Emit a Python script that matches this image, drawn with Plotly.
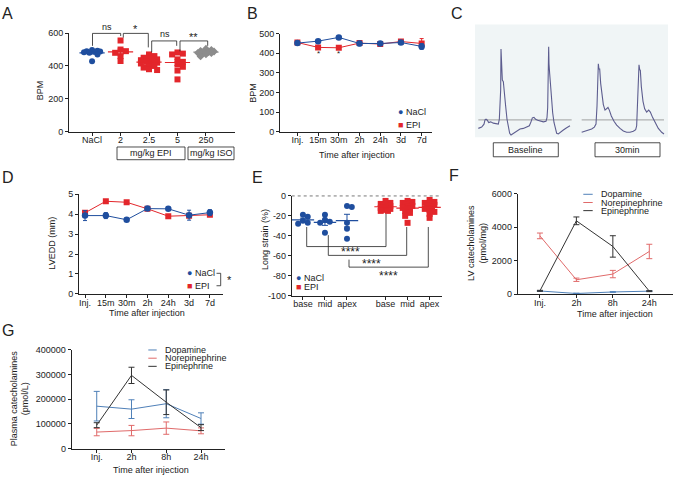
import plotly.graph_objects as go
import numpy as np

W, H = 673, 481
FONT = "Liberation Sans, Arial, sans-serif"
INK = "#222222"
BLUE = "#1f4e9e"
RED = "#e3262b"
GRAY = "#8c8c8c"
DOPA = "#4f80b8"
NOREPI = "#e06a6a"
EPIC = "#333333"
TRACE = "#5d5d8f"

# ---------------- data ----------------
# A: heart rate by dose
a_labels = ["NaCl", "2", "2.5", "5", "250"]
a_nacl = [497, 493, 490, 488, 486, 484, 480, 470, 428]
a_epi2 = [555, 500, 490, 480, 460, 430]
a_epi25 = [470, 460, 450, 445, 440, 435, 430, 425, 420, 415, 410, 400, 390, 380, 375]
a_epi5 = [482, 475, 470, 440, 425, 410, 395, 372, 318]
a_iso = [505, 498, 492, 488, 485, 482, 480, 478, 470, 458]

# B: BPM over time
b_times = ["Inj.", "15m", "30m", "2h", "24h", "3d", "7d"]
b_nacl = [452, 462, 481, 450, 450, 455, 435]
b_nacl_sem = [8, 5, 5, 12, 8, 8, 15]
b_epi = [455, 430, 428, 452, 447, 460, 450]
b_epi_sem = [6, 10, 8, 10, 8, 8, 25]

# C: representative traces (time, amplitude)
c_base_t = [25, 35, 42, 45, 48, 52, 56, 62, 70, 78, 85, 88, 90, 92, 93, 94, 96, 97, 100, 103, 107, 111, 115, 119, 123,
            130, 140, 150, 160, 170, 178, 183, 187, 192, 197, 203, 210, 220, 228, 231, 233, 234, 236, 237, 239, 241,
            244, 248, 252, 256, 260, 265, 272, 280, 290, 300]
c_base_v = [-0.26, -0.22, -0.13, 0.0, 0.02, -0.01, -0.08, -0.06, -0.10, -0.11, -0.13, 0.02, 0.34, 0.92, 2.17, 1.74,
            1.77, 1.22, 1.17, 0.77, 0.42, 0.02, -0.23, -0.41, -0.46, -0.42, -0.34, -0.28, -0.26, -0.22, -0.18, -0.06,
            0.06, 0.08, 0.02, -0.01, -0.04, -0.06, -0.04, 0.07, 0.37, 0.92, 2.24, 1.72, 1.42, 1.07, 0.62, 0.22,
            -0.08, -0.30, -0.41, -0.43, -0.36, -0.31, -0.24, -0.18]
c_30_t = [335, 345, 355, 365, 373, 378, 381, 383, 385, 387, 389, 392, 396, 400, 405, 410, 414, 418, 424, 432, 440,
          450, 460, 470, 480, 490, 497, 500, 502, 504, 507, 509, 511, 514, 519, 524, 530, 536, 541, 548, 556, 565,
          575, 582]
c_30_v = [-0.38, -0.34, -0.32, -0.28, -0.22, -0.13, 0.42, 1.12, 1.72, 1.55, 1.57, 1.12, 0.72, 0.47, 0.30, 0.34,
          0.38, 0.30, 0.12, -0.04, -0.16, -0.26, -0.34, -0.38, -0.38, -0.35, -0.30, -0.18, 0.32, 1.02, 1.69, 1.54,
          1.52, 1.02, 0.57, 0.34, 0.24, 0.30, 0.24, 0.07, -0.11, -0.26, -0.38, -0.43]

# D: LVEDD
d_nacl = [3.93, 3.93, 3.72, 4.28, 4.27, 3.95, 4.08]
d_nacl_sem = [0.25, 0.15, 0.07, 0.07, 0.07, 0.25, 0.15]
d_epi = [4.07, 4.65, 4.60, 4.27, 3.90, 3.92, 3.97]
d_epi_sem = [0.10, 0.05, 0.05, 0.05, 0.05, 0.08, 0.05]

# E: longitudinal strain
e_labels = ["base", "mid", "apex", "base", "mid", "apex"]
e_nacl_base = [-19, -21, -25, -27, -28]
e_nacl_mid = [-19, -24, -26, -27, -37]
e_nacl_apex = [-10, -11, -27, -33, -43]
e_epi_base = [-5, -7, -8, -9, -10, -10, -11, -12, -12, -13, -14, -15, -15]
e_epi_mid = [-5, -6, -7, -8, -9, -10, -11, -12, -13, -15, -17, -20, -27]
e_epi_apex = [-4, -6, -7, -8, -9, -10, -11, -13, -14, -16, -18, -22]

# F: LV catecholamines
f_times = ["Inj.", "2h", "8h", "24h"]
f_dopa = [190, 40, 130, 180]
f_dopa_sem = [20, 20, 20, 20]
f_norepi = [3480, 860, 1200, 2550]
f_norepi_sem = [170, 100, 220, 430]
f_epi = [200, 4380, 2850, 180]
f_epi_sem = [30, 230, 640, 30]

# G: plasma catecholamines
g_times = ["Inj.", "2h", "8h", "24h"]
g_dopa = [172000, 160000, 182000, 122000]
g_dopa_sem = [60000, 38000, 57000, 23000]
g_norepi = [67000, 73000, 83000, 72000]
g_norepi_sem = [15000, 21000, 25000, 12000]
g_epi = [95000, 297000, 188000, 85000]
g_epi_sem = [10000, 33000, 50000, 12000]


# ---------------- helpers ----------------
def X(p):
    return p / W


def Y(p):
    return 1 - p / H


def xd(a, b):
    return [a / W, b / W]


def yd(top, bottom):
    return [1 - bottom / H, 1 - top / H]


def swarm(vals, xs, ys, r=4.5, kmax=3):
    """Deterministic beeswarm offsets (in x data units)."""
    placed = []
    order = sorted(range(len(vals)), key=lambda i: -vals[i])
    res = [0.0] * len(vals)
    cands = [0]
    for k in range(1, kmax + 1):
        cands += [k, -k]
    for i in order:
        ypx = vals[i] * ys
        best, bestd = 0.0, -1
        for k in cands:
            xpx = k * r * 0.6
            dmin = min([((xpx - a) ** 2 + (ypx - b) ** 2) ** 0.5 for a, b in placed] or [99])
            if dmin >= r:
                best = xpx
                break
            if dmin > bestd:
                best, bestd = xpx, dmin
        placed.append((best, ypx))
        res[i] = best / xs
    return res


fig = go.Figure()
shapes, annos = [], []


def txt(x, y, s, size=9, xanchor="center", yanchor="middle", angle=0, color=INK):
    annos.append(dict(x=X(x), y=Y(y), xref="paper", yref="paper", text=s, showarrow=False,
                      font=dict(family=FONT, size=size, color=color), xanchor=xanchor, yanchor=yanchor,
                      textangle=angle))


def pline(x0, y0, x1, y1, color=INK, w=1, dash=None):
    d = dict(type="line", xref="paper", yref="paper", x0=X(x0), y0=Y(y0), x1=X(x1), y1=Y(y1),
             line=dict(color=color, width=w))
    if dash:
        d["line"]["dash"] = dash
    shapes.append(d)


def prect(x0, y0, x1, y1, fill=None, line=INK, w=1, layer="above"):
    shapes.append(dict(type="rect", xref="paper", yref="paper", x0=X(x0), y0=Y(y0), x1=X(x1), y1=Y(y1),
                       line=dict(color=line, width=w), fillcolor=fill or "rgba(0,0,0,0)", layer=layer))


axstyle = dict(showline=True, linecolor=INK, linewidth=1, ticks="outside", ticklen=3, tickwidth=1,
               tickcolor=INK, showgrid=False, zeroline=False, tickfont=dict(family=FONT, size=9, color=INK),
               fixedrange=True)
xstyle = dict(axstyle, ticklabelstandoff=-3)


def mean_sem(v):
    v = np.asarray(v, float)
    return float(v.mean()), float(v.std(ddof=1) / np.sqrt(len(v)))


# ---------------- Panel A ----------------
a_sets = [a_nacl, a_epi2, a_epi25, a_epi5, a_iso]
a_cols = [BLUE, RED, RED, RED, GRAY]
a_syms = ["circle", "square", "square", "square", "diamond"]
for i, vals in enumerate(a_sets):
    offs = swarm(vals, 28.5, 0.168, 4.5, 3)
    fig.add_trace(go.Scatter(x=[i + o for o in offs], y=vals, mode="markers", xaxis="x", yaxis="y",
                             marker=dict(symbol=a_syms[i], size=6, color=a_cols[i], line=dict(width=0)),
                             showlegend=False, cliponaxis=False))
    m, s = mean_sem(vals)
    fig.add_trace(go.Scatter(x=[i], y=[m], mode="markers", xaxis="x", yaxis="y", showlegend=False,
                             marker=dict(symbol="line-ew", size=18, line=dict(width=1.2, color=a_cols[i])),
                             error_y=dict(type="data", array=[s], color=a_cols[i], thickness=1, width=3)))

# brackets
for seg in [(92.5, 41.7, 92.5, 29), (92.5, 29, 120.7, 29), (120.7, 29, 120.7, 31.7),
            (123.3, 33.3, 123.3, 29), (123.3, 29, 148.3, 29), (148.3, 29, 148.3, 43.3),
            (151.7, 48.3, 151.7, 36.7), (151.7, 36.7, 176.7, 36.7), (176.7, 36.7, 176.7, 41.7),
            (180, 47.3, 180, 36.7), (180, 36.7, 207.7, 36.7), (207.7, 36.7, 207.7, 41.7)]:
    pline(*seg, w=0.8)
txt(106.5, 22.5, "ns", 9)
txt(135.5, 25, "*", 11)
txt(164.5, 30, "ns", 9)
txt(194, 33, "**", 11)
prect(117, 145, 185, 158, w=0.8)
txt(151, 151.5, "mg/kg EPI", 9)
prect(188, 145, 234, 158, w=0.8)
txt(211, 151.5, "mg/kg ISO", 9)
txt(40, 87, "BPM", 9, angle=-90)

# ---------------- Panel B ----------------
bx = list(range(len(b_times)))
fig.add_trace(go.Scatter(x=bx, y=b_epi, mode="lines+markers", xaxis="x2", yaxis="y2", showlegend=False,
                         line=dict(color=RED, width=1), marker=dict(symbol="square", size=6, color=RED),
                         error_y=dict(type="data", array=b_epi_sem, color=RED, thickness=1, width=2)))
fig.add_trace(go.Scatter(x=bx, y=b_nacl, mode="lines+markers", xaxis="x2", yaxis="y2", showlegend=False,
                         line=dict(color=BLUE, width=1), marker=dict(symbol="circle", size=6.5, color=BLUE),
                         error_y=dict(type="data", array=b_nacl_sem, color=BLUE, thickness=1, width=2)))
txt(297.3 + 20.7 * 1, 50, "*", 8)
txt(297.3 + 20.7 * 2, 50, "*", 8)
txt(396, 109, "<span style='color:%s'>●</span> NaCl" % BLUE, 9, xanchor="left")
txt(396, 123, "<span style='color:%s'>■</span> EPI" % RED, 9, xanchor="left")
txt(252.7, 90, "BPM", 9, angle=-90)
txt(357, 152.7, "Time after injection", 9)

# ---------------- Panel C ----------------
prect(475, 20, 668, 135, fill="#f0f5f6", line="rgba(0,0,0,0)", w=0, layer="below")
fig.add_trace(go.Scatter(x=c_base_t, y=c_base_v, mode="lines", xaxis="x3", yaxis="y3", showlegend=False,
                         line=dict(color=TRACE, width=1.1)))
fig.add_trace(go.Scatter(x=c_30_t, y=c_30_v, mode="lines", xaxis="x3", yaxis="y3", showlegend=False,
                         line=dict(color=TRACE, width=1.1)))
shapes.append(dict(type="line", xref="x3", yref="y3", x0=25, x1=305, y0=0, y1=0,
                   line=dict(color="#8a8a8a", width=0.8), layer="below"))
shapes.append(dict(type="line", xref="x3", yref="y3", x0=335, x1=582, y0=0, y1=0,
                   line=dict(color="#8a8a8a", width=0.8), layer="below"))
prect(493.3, 140.7, 558.3, 155, w=0.8)
txt(525.8, 148, "Baseline", 9)
prect(595, 140.7, 660, 155, w=0.8)
txt(627.5, 148, "30min", 9)

# ---------------- Panel D ----------------
dx = list(range(len(b_times)))
fig.add_trace(go.Scatter(x=dx, y=d_epi, mode="lines+markers", xaxis="x4", yaxis="y4", showlegend=False,
                         line=dict(color=RED, width=1), marker=dict(symbol="square", size=6, color=RED),
                         error_y=dict(type="data", array=d_epi_sem, color=RED, thickness=1, width=2)))
fig.add_trace(go.Scatter(x=dx, y=d_nacl, mode="lines+markers", xaxis="x4", yaxis="y4", showlegend=False,
                         line=dict(color=BLUE, width=1), marker=dict(symbol="circle", size=6.5, color=BLUE),
                         error_y=dict(type="data", array=d_nacl_sem, color=BLUE, thickness=1, width=2)))
txt(185, 274, "<span style='color:%s'>●</span> NaCl" % BLUE, 9, xanchor="left")
txt(185, 286.7, "<span style='color:%s'>■</span> EPI" % RED, 9, xanchor="left")
pline(216.5, 274, 220.7, 274, w=0.8)
pline(220.7, 274, 220.7, 286.7, w=0.8)
pline(216.5, 286.7, 220.7, 286.7, w=0.8)
txt(229, 281, "*", 11)
txt(51.7, 243, "LVEDD (mm)", 9, angle=-90)
txt(146.7, 315, "Time after injection", 9)

# ---------------- Panel E ----------------
e_sets = [e_nacl_base, e_nacl_mid, e_nacl_apex, e_epi_base, e_epi_mid, e_epi_apex]
e_pos = [i + (0.75 if i >= 3 else 0) for i in range(6)]
for i, vals in enumerate(e_sets):
    col = BLUE if i < 3 else RED
    sym = "circle" if i < 3 else "square"
    offs = swarm(vals, 22.0, 1.017, 4.0, 2)
    fig.add_trace(go.Scatter(x=[e_pos[i] + o for o in offs], y=vals, mode="markers", xaxis="x5", yaxis="y5",
                             marker=dict(symbol=sym, size=6, color=col, line=dict(width=0)),
                             showlegend=False, cliponaxis=False))
    m, s = mean_sem(vals)
    fig.add_trace(go.Scatter(x=[e_pos[i]], y=[m], mode="markers", xaxis="x5", yaxis="y5", showlegend=False,
                             marker=dict(symbol="line-ew", size=16, line=dict(width=1.2, color=col)),
                             error_y=dict(type="data", array=[s], color=col, thickness=1, width=3)))
pline(291.7, 195, 441.7, 195, color="#555", w=0.8, dash="dot")
for seg in [(306.7, 226.7, 306.7, 246.7), (306.7, 246.7, 386, 246.7), (386, 246.7, 386, 213.3),
            (328.3, 235, 328.3, 255.7), (328.3, 255.7, 406.7, 255.7), (406.7, 255.7, 406.7, 226.7),
            (349, 260, 349, 267.7), (349, 267.7, 428.3, 267.7), (428.3, 267.7, 428.3, 226.7)]:
    pline(*seg, w=0.8)
txt(350, 252.5, "****", 12)
txt(371.7, 264, "****", 12)
txt(388.3, 277, "****", 12)
txt(294, 278.3, "<span style='color:%s'>●</span> NaCl" % BLUE, 9, xanchor="left")
txt(294, 288.3, "<span style='color:%s'>■</span> EPI" % RED, 9, xanchor="left")
txt(265, 240, "Long strain (%)", 9, angle=-90)

# ---------------- Panel F ----------------
fx = list(range(len(f_times)))
for ys, es, col in [(f_dopa, f_dopa_sem, DOPA), (f_norepi, f_norepi_sem, NOREPI), (f_epi, f_epi_sem, EPIC)]:
    fig.add_trace(go.Scatter(x=fx, y=ys, mode="lines", xaxis="x6", yaxis="y6", showlegend=False,
                             line=dict(color=col, width=1),
                             error_y=dict(type="data", array=es, color=col, thickness=1, width=3)))
for yy, name, col in [(193.3, "Dopamine", DOPA), (201.7, "Norepinephrine", NOREPI), (210, "Epinephrine", EPIC)]:
    pline(583.3, yy, 592.7, yy, color=col, w=1)
    txt(599, yy, name, 9, xanchor="left")
txt(477, 243, "LV catecholamines<br>(pmol/mg)", 9, angle=-90)
txt(615, 316, "Time after injection", 9)

# ---------------- Panel G ----------------
gx = list(range(len(g_times)))
for ys, es, col in [(g_dopa, g_dopa_sem, DOPA), (g_norepi, g_norepi_sem, NOREPI), (g_epi, g_epi_sem, EPIC)]:
    fig.add_trace(go.Scatter(x=gx, y=ys, mode="lines", xaxis="x7", yaxis="y7", showlegend=False,
                             line=dict(color=col, width=1),
                             error_y=dict(type="data", array=es, color=col, thickness=1, width=3)))
for yy, name, col in [(352.3, "Dopamine", DOPA), (360.7, "Norepinephrine", NOREPI), (369, "Epinephrine", EPIC)]:
    pline(148.3, yy, 156.7, yy, color=col, w=1)
    txt(163, yy, name, 9, xanchor="left")
txt(20, 401.7, "Plasma catecholamines<br>(pmol/L)", 9, angle=-90)
txt(151, 475, "Time after injection", 9)

# panel letters
for L, x, y in [("A", 7, 8.5), ("B", 252.5, 9), ("C", 456.5, 9), ("D", 7.5, 176), ("E", 257.5, 176),
                ("F", 453.5, 174), ("G", 8.3, 332.5)]:
    txt(x, y, L, 16)

layout = dict(
    width=W, height=H, margin=dict(l=0, r=0, t=0, b=0), paper_bgcolor="white", plot_bgcolor="rgba(0,0,0,0)",
    font=dict(family=FONT, size=9, color=INK), showlegend=False,
    xaxis=dict(xstyle, domain=xd(69, 235), range=[-0.81, 5.02], tickvals=list(range(5)), ticktext=a_labels,
               anchor="y"),
    yaxis=dict(axstyle, domain=yd(28.7, 129.3), range=[0, 600], tickvals=[0, 200, 400, 600], anchor="x"),
    xaxis2=dict(xstyle, domain=xd(280, 432), range=[-0.84, 6.5], tickvals=bx, ticktext=b_times, anchor="y2"),
    yaxis2=dict(axstyle, domain=yd(29.3, 129.3), range=[0, 500], tickvals=[0, 100, 200, 300, 400, 500],
                anchor="x2"),
    xaxis3=dict(domain=xd(470, 673), range=[0, 609], visible=False, anchor="y3", fixedrange=True),
    yaxis3=dict(domain=yd(20, 140), range=[-0.68, 2.92], visible=False, anchor="x3", fixedrange=True),
    xaxis4=dict(xstyle, domain=xd(79, 223), range=[-0.29, 6.63], tickvals=dx, ticktext=b_times, anchor="y4"),
    yaxis4=dict(axstyle, domain=yd(193.3, 295), range=[0, 5], tickvals=[0, 1, 2, 3, 4, 5], anchor="x4"),
    xaxis5=dict(xstyle, domain=xd(291.7, 441.7), range=[-0.51, 6.3], tickvals=e_pos, ticktext=e_labels,
                anchor="y5"),
    yaxis5=dict(axstyle, domain=yd(195, 296.7), range=[-100, 0], tickvals=[0, -20, -40, -60, -80, -100],
                ticktext=["0", "-20", "-40", "-60", "-80", "-100"], anchor="x5"),
    xaxis6=dict(xstyle, domain=xd(517.7, 673), range=[-0.61, 3.65], tickvals=fx, ticktext=f_times, anchor="y6"),
    yaxis6=dict(axstyle, domain=yd(192.7, 295.3), range=[0, 6000], tickvals=[0, 2000, 4000, 6000],
                ticktext=["0", "2000", "4000", "6000"], anchor="x6"),
    xaxis7=dict(xstyle, domain=xd(71.7, 225), range=[-0.72, 3.69], tickvals=gx, ticktext=g_times, anchor="y7"),
    yaxis7=dict(axstyle, domain=yd(352.3, 453), range=[0, 400000],
                tickvals=[0, 100000, 200000, 300000, 400000],
                ticktext=["0", "100000", "200000", "300000", "400000"], anchor="x7"),
    shapes=shapes, annotations=annos,
)
fig.update_layout(**layout)
fig.write_html("out.html", config={"displayModeBar": False},
               post_script="document.body.style.margin='0px';document.body.style.overflow='hidden';")
